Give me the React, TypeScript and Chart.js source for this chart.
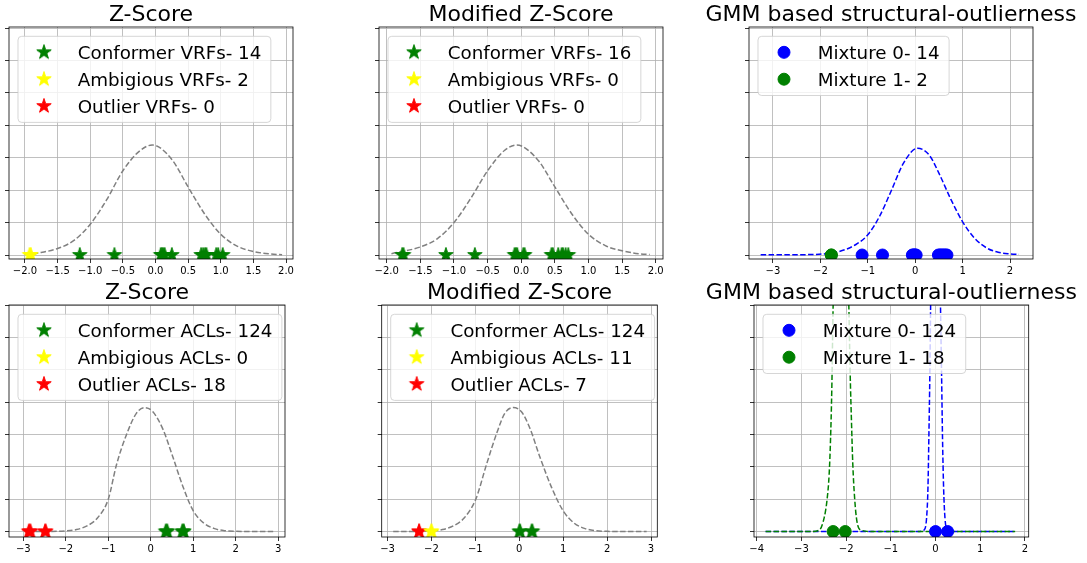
import React, { useEffect, useRef } from "react";
import { Chart, registerables } from "chart.js";

Chart.register(...registerables);

const FONT = "'DejaVu Sans', 'Liberation Sans', sans-serif";

// ---------- tick values ----------
const yTickValues = [0, 0.2, 0.4, 0.6, 0.8, 1.0, 1.2, 1.4];
const halfTicks = [-2.0, -1.5, -1.0, -0.5, 0.0, 0.5, 1.0, 1.5, 2.0];
const gmmTopTicks = [-3, -2, -1, 0, 1, 2];
const unitTicks = [-3, -2, -1, 0, 1, 2, 3];
const gmmBottomTicks = [-4, -3, -2, -1, 0, 1, 2];

// ---------- titles / labels ----------
const titleZ = "Z-Score";
const titleMZ = "Modified Z-Score";
const titleGMM = "GMM based structural-outlierness";

const vrfZLabels = ["Conformer VRFs- 14", "Ambigious VRFs- 2", "Outlier VRFs- 0"];
const vrfMzLabels = ["Conformer VRFs- 16", "Ambigious VRFs- 0", "Outlier VRFs- 0"];
const vrfGmmLabels = ["Mixture 0- 14", "Mixture 1- 2"];
const aclZLabels = ["Conformer ACLs- 124", "Ambigious ACLs- 0", "Outlier ACLs- 18"];
const aclMzLabels = ["Conformer ACLs- 124", "Ambigious ACLs- 11", "Outlier ACLs- 7"];
const aclGmmLabels = ["Mixture 0- 124", "Mixture 1- 18"];

// ---------- Panel 1: Z-Score (VRFs) ----------
const vrfZConformer = [-1.16, -0.63, 0.08, 0.1, 0.12, 0.14, 0.25, 0.7, 0.73, 0.76, 0.78, 0.93, 0.96, 1.03];
const vrfZAmbiguous = [-1.93, -1.91];
const vrfZOutlier: number[] = [];
const vrfZCurveX = [-1.88, -1.5, -1.25, -1.0, -0.75, -0.5, -0.25, -0.05, 0.25, 0.5, 0.75, 1.0, 1.25, 1.5, 1.75, 1.94];
const vrfZCurveY = [0.006, 0.04, 0.09, 0.19, 0.34, 0.52, 0.64, 0.679, 0.59, 0.42, 0.255, 0.128, 0.055, 0.022, 0.007, 0.002];

// ---------- Panel 2: Modified Z-Score (VRFs) ----------
const vrfMzConformer = [-1.77, -1.75, -1.12, -0.69, -0.1, -0.08, -0.06, 0.03, 0.05, 0.45, 0.47, 0.55, 0.6, 0.62, 0.66, 0.7];
const vrfMzAmbiguous: number[] = [];
const vrfMzOutlier: number[] = [];
const vrfMzCurveX = [-1.93, -1.5, -1.25, -1.0, -0.75, -0.5, -0.25, -0.07, 0.25, 0.5, 0.75, 1.0, 1.25, 1.5, 1.75, 1.91];
const vrfMzCurveY = [0.008, 0.05, 0.1, 0.2, 0.35, 0.52, 0.645, 0.679, 0.585, 0.42, 0.255, 0.128, 0.058, 0.026, 0.008, 0.003];

// ---------- Panel 3: GMM (VRFs) ----------
const vrfGmmMix0 = [-1.12, -0.69, -0.06, -0.04, -0.02, 0.0, 0.02, 0.49, 0.52, 0.55, 0.58, 0.61, 0.64, 0.67];
const vrfGmmMix1 = [-1.77, -1.77];
const vrfGmmCurveX = [-3.26, -2.5, -2.03, -1.6, -1.25, -1.0, -0.75, -0.5, -0.25, 0.05, 0.3, 0.5, 0.75, 1.0, 1.25, 1.5, 1.75, 2.0, 2.19];
const vrfGmmCurveY = [0.001, 0.002, 0.005, 0.022, 0.065, 0.125, 0.24, 0.4, 0.565, 0.659, 0.615, 0.505, 0.345, 0.205, 0.105, 0.045, 0.017, 0.007, 0.004];

// ---------- Panel 4: Z-Score (ACLs) ----------
const aclZConformer = [0.35, 0.37, 0.39, 0.74, 0.76, 0.78];
const aclZAmbiguous: number[] = [];
const aclZOutlier = [-2.87, -2.85, -2.83, -2.49, -2.47];
const aclZCurveX = [-2.9, -2.5, -2.0, -1.75, -1.5, -1.25, -1.0, -0.81, -0.57, -0.34, -0.14, 0.05, 0.29, 0.52, 0.76, 1.0, 1.25, 1.5, 1.75, 2.0, 2.5, 2.88];
const aclZCurveY = [0, 0.0005, 0.004, 0.012, 0.035, 0.085, 0.2, 0.41, 0.6, 0.73, 0.766, 0.74, 0.63, 0.46, 0.275, 0.128, 0.052, 0.018, 0.005, 0.0015, 0, 0];

// ---------- Panel 5: Modified Z-Score (ACLs) ----------
const aclMzConformer = [0.0, 0.02, 0.28, 0.3];
const aclMzAmbiguous = [-2.0, -2.0];
const aclMzOutlier = [-2.28, -2.28];
const aclMzCurveX = [-2.87, -2.5, -2.0, -1.75, -1.5, -1.25, -0.99, -0.74, -0.51, -0.33, -0.14, 0.05, 0.24, 0.47, 0.74, 1.0, 1.25, 1.5, 1.75, 2.0, 2.5, 2.9];
const aclMzCurveY = [0, 0.0005, 0.004, 0.012, 0.035, 0.085, 0.2, 0.42, 0.61, 0.73, 0.766, 0.74, 0.64, 0.46, 0.27, 0.128, 0.052, 0.018, 0.005, 0.0015, 0, 0];

// ---------- Panel 6: GMM (ACLs) ----------
const aclGmmMix0 = [0.0, 0.27];
const aclGmmMix1 = [-2.29, -2.02];
const aclGmmCurve1X = [-3.8, -2.8, -2.605, -2.49, -2.43, -2.38, -2.35, -2.32, -2.29, -2.12, -1.94, -1.91, -1.88, -1.85, -1.81, -1.76, -1.66, -1.4, 1.78];
const aclGmmCurve1Y = [0, 0, 0.008, 0.086, 0.188, 0.351, 0.556, 0.882, 1.403, 3.0, 1.403, 0.984, 0.678, 0.412, 0.208, 0.066, 0.008, 0, 0];
const aclGmmCurve0X = [-3.8, -0.4, -0.26, -0.2, -0.17, -0.15, -0.127, -0.11, 0.0, 0.11, 0.134, 0.156, 0.18, 0.21, 0.26, 0.4, 1.78];
const aclGmmCurve0Y = [0, 0, 0.008, 0.086, 0.27, 0.576, 0.984, 1.403, 3.5, 1.403, 0.984, 0.576, 0.27, 0.086, 0.008, 0, 0];

// ---------- helpers ----------
const GREEN = "#008000";
const YELLOW = "#ffff00";
const RED = "#ff0000";
const BLUE = "#0000ff";
const GRAY = "#808080";

const STAR_R = 7.6;
const starCache: Record<string, HTMLCanvasElement> = {};
function starImage(color: string): HTMLCanvasElement {
  if (starCache[color]) return starCache[color];
  const size = 20;
  const c = document.createElement("canvas");
  c.width = size;
  c.height = size;
  const g = c.getContext("2d")!;
  const cx = size / 2;
  const cy = size / 2;
  g.beginPath();
  for (let k = 0; k < 10; k++) {
    const ang = -Math.PI / 2 + (k * Math.PI) / 5;
    const rr = k % 2 === 0 ? STAR_R : STAR_R * 0.381966;
    const px = cx + rr * Math.cos(ang);
    const py = cy + rr * Math.sin(ang);
    if (k === 0) g.moveTo(px, py);
    else g.lineTo(px, py);
  }
  g.closePath();
  g.fillStyle = color;
  g.fill();
  g.strokeStyle = color;
  g.lineWidth = 1;
  g.stroke();
  starCache[color] = c;
  return c;
}

type Marker = "star" | "dot";

function markerSet(label: string, xs: number[], color: string, marker: Marker, order: number) {
  return {
    label,
    data: xs.map((x) => ({ x, y: 0 })),
    showLine: false,
    pointStyle: marker === "star" ? starImage(color) : "circle",
    pointRadius: marker === "star" ? 7 : 6,
    pointBorderWidth: 1,
    pointBackgroundColor: color,
    pointBorderColor: color,
    backgroundColor: color,
    borderColor: color,
    clip: 0,
    order,
    legendMarker: marker,
    legendColor: color,
  };
}

function curveSet(xs: number[], ys: number[], color: string, order: number) {
  return {
    label: "",
    data: xs.map((x, i) => ({ x, y: ys[i] })),
    showLine: true,
    borderColor: color,
    borderWidth: 1.5,
    borderDash: [5.5, 2.4],
    pointRadius: 0,
    fill: false,
    cubicInterpolationMode: "monotone",
    clip: 0,
    order,
  };
}

function fmt(v: number, decimals: number) {
  return v.toFixed(decimals).replace("-", "\u2212");
}

const decorPlugin = {
  id: "panelDecor",
  afterDatasetsDraw(chart: any, _args: any, opts: any) {
    const { ctx, chartArea: a } = chart;
    ctx.save();
    // frame (all four spines)
    ctx.strokeStyle = "#000";
    ctx.lineWidth = 0.8;
    ctx.strokeRect(a.left, a.top, a.right - a.left, a.bottom - a.top);

    // legend
    const items = chart.data.datasets.filter((d: any) => d.legendMarker);
    const lfs = 18.3;
    ctx.font = `${lfs}px ${FONT}`;
    let tw = 0;
    items.forEach((d: any) => {
      tw = Math.max(tw, ctx.measureText(d.label).width);
    });
    const bx = a.left + 9;
    const by = a.top + 9.3;
    const bw = 59.7 + tw + 9.5;
    const bh = 32.3 + 26.9 * (items.length - 1);
    const r = 3.7;
    ctx.beginPath();
    ctx.moveTo(bx + r, by);
    ctx.lineTo(bx + bw - r, by);
    ctx.arcTo(bx + bw, by, bx + bw, by + r, r);
    ctx.lineTo(bx + bw, by + bh - r);
    ctx.arcTo(bx + bw, by + bh, bx + bw - r, by + bh, r);
    ctx.lineTo(bx + r, by + bh);
    ctx.arcTo(bx, by + bh, bx, by + bh - r, r);
    ctx.lineTo(bx, by + r);
    ctx.arcTo(bx, by, bx + r, by, r);
    ctx.closePath();
    ctx.fillStyle = "rgba(255,255,255,0.8)";
    ctx.fill();
    ctx.strokeStyle = "rgba(204,204,204,0.8)";
    ctx.lineWidth = 1;
    ctx.stroke();

    items.forEach((d: any, i: number) => {
      const cy = by + 16 + 26.9 * i;
      const mx = bx + 26;
      if (d.legendMarker === "star") {
        const img = starImage(d.legendColor);
        ctx.drawImage(img, mx - img.width / 2, cy - img.height / 2);
      } else {
        ctx.beginPath();
        ctx.arc(mx, cy, 6, 0, Math.PI * 2);
        ctx.fillStyle = d.legendColor;
        ctx.fill();
        ctx.strokeStyle = d.legendColor;
        ctx.lineWidth = 1;
        ctx.stroke();
      }
      ctx.fillStyle = "#000";
      ctx.textAlign = "left";
      ctx.textBaseline = "alphabetic";
      ctx.fillText(d.label, bx + 59.7, cy + 0.729 * lfs * 0.5);
    });

    // title
    ctx.font = `22px ${FONT}`;
    ctx.fillStyle = "#000";
    ctx.textAlign = "center";
    ctx.textBaseline = "alphabetic";
    ctx.fillText(opts.title, (a.left + a.right) / 2, a.top - 6);
    ctx.restore();
  },
};

interface PanelSpec {
  cx: number;
  cy: number;
  cw: number;
  ch: number;
  pad: { left: number; right: number; top: number; bottom: number };
  title: string;
  xMin: number;
  xMax: number;
  yMin: number;
  yMax: number;
  xTicks: number[];
  decimals: number;
  datasets: any[];
}

function buildConfig(spec: PanelSpec): any {
  const gridCommon = {
    color: "#b0b0b0",
    lineWidth: 0.8,
    tickColor: "#000",
    tickLength: 4,
    tickWidth: 0.8,
  };
  return {
    type: "scatter",
    data: { datasets: spec.datasets },
    options: {
      responsive: false,
      animation: false,
      events: [],
      layout: { padding: spec.pad },
      plugins: {
        legend: { display: false },
        tooltip: { enabled: false },
        title: { display: false },
        panelDecor: { title: spec.title },
      },
      scales: {
        x: {
          type: "linear",
          min: spec.xMin,
          max: spec.xMax,
          afterBuildTicks: (axis: any) => {
            axis.ticks = spec.xTicks.map((v) => ({ value: v }));
          },
          ticks: {
            callback: (v: any) => fmt(Number(v), spec.decimals),
            font: { family: FONT, size: 10 },
            color: "#000",
            padding: 2,
            autoSkip: false,
            maxRotation: 0,
            minRotation: 0,
          },
          grid: gridCommon,
          border: { display: false },
        },
        y: {
          type: "linear",
          min: spec.yMin,
          max: spec.yMax,
          afterBuildTicks: (axis: any) => {
            axis.ticks = yTickValues.map((v) => ({ value: v }));
          },
          ticks: { display: false },
          grid: gridCommon,
          border: { display: false },
        },
      },
    },
    plugins: [decorPlugin],
  };
}

const TOP_Y = { yMin: -0.0245, yMax: 1.407 };
const BOT_Y = { yMin: -0.0337, yMax: 1.4 };

const panels: PanelSpec[] = [
  {
    cx: 0, cy: 0, cw: 360, ch: 283,
    pad: { left: 5, right: 67, top: 27, bottom: 4 },
    title: titleZ, xMin: -2.245, xMax: 2.107, ...TOP_Y, xTicks: halfTicks, decimals: 1,
    datasets: [
      markerSet(vrfZLabels[0], vrfZConformer, GREEN, "star", 0),
      markerSet(vrfZLabels[1], vrfZAmbiguous, YELLOW, "star", 1),
      markerSet(vrfZLabels[2], vrfZOutlier, RED, "star", 2),
      curveSet(vrfZCurveX, vrfZCurveY, GRAY, 3),
    ],
  },
  {
    cx: 350, cy: 0, cw: 340, ch: 283,
    pad: { left: 25, right: 27, top: 27, bottom: 4 },
    title: titleMZ, xMin: -2.115, xMax: 2.108, ...TOP_Y, xTicks: halfTicks, decimals: 1,
    datasets: [
      markerSet(vrfMzLabels[0], vrfMzConformer, GREEN, "star", 0),
      markerSet(vrfMzLabels[1], vrfMzAmbiguous, YELLOW, "star", 1),
      markerSet(vrfMzLabels[2], vrfMzOutlier, RED, "star", 2),
      curveSet(vrfMzCurveX, vrfMzCurveY, GRAY, 3),
    ],
  },
  {
    cx: 690, cy: 0, cw: 397, ch: 283,
    pad: { left: 55, right: 54, top: 27, bottom: 4 },
    title: titleGMM, xMin: -3.506, xMax: 2.485, ...TOP_Y, xTicks: gmmTopTicks, decimals: 0,
    datasets: [
      markerSet(vrfGmmLabels[0], vrfGmmMix0, BLUE, "dot", 0),
      markerSet(vrfGmmLabels[1], vrfGmmMix1, GREEN, "dot", 1),
      curveSet(vrfGmmCurveX, vrfGmmCurveY, BLUE, 3),
    ],
  },
  {
    cx: 0, cy: 280, cw: 360, ch: 283,
    pad: { left: 5, right: 75, top: 25, bottom: 6 },
    title: titleZ, xMin: -3.336, xMax: 3.158, ...BOT_Y, xTicks: unitTicks, decimals: 0,
    datasets: [
      markerSet(aclZLabels[0], aclZConformer, GREEN, "star", 0),
      markerSet(aclZLabels[1], aclZAmbiguous, YELLOW, "star", 1),
      markerSet(aclZLabels[2], aclZOutlier, RED, "star", 2),
      curveSet(aclZCurveX, aclZCurveY, GRAY, 3),
    ],
  },
  {
    cx: 350, cy: 280, cw: 340, ch: 283,
    pad: { left: 27.7, right: 32.7, top: 25, bottom: 6 },
    title: titleMZ, xMin: -3.132, xMax: 3.143, ...BOT_Y, xTicks: unitTicks, decimals: 0,
    datasets: [
      markerSet(aclMzLabels[0], aclMzConformer, GREEN, "star", 0),
      markerSet(aclMzLabels[1], aclMzAmbiguous, YELLOW, "star", 1),
      markerSet(aclMzLabels[2], aclMzOutlier, RED, "star", 2),
      curveSet(aclMzCurveX, aclMzCurveY, GRAY, 3),
    ],
  },
  {
    cx: 690, cy: 280, cw: 397, ch: 283,
    pad: { left: 60, right: 58.3, top: 25, bottom: 6 },
    title: titleGMM, xMin: -4.06, xMax: 2.083, ...BOT_Y, xTicks: gmmBottomTicks, decimals: 0,
    datasets: [
      markerSet(aclGmmLabels[0], aclGmmMix0, BLUE, "dot", 0),
      markerSet(aclGmmLabels[1], aclGmmMix1, GREEN, "dot", 1),
      curveSet(aclGmmCurve1X, aclGmmCurve1Y, GREEN, 2),
      curveSet(aclGmmCurve0X, aclGmmCurve0Y, BLUE, 3),
    ],
  },
];

function Panel({ spec }: { spec: PanelSpec }) {
  const ref = useRef<HTMLCanvasElement>(null);
  useEffect(() => {
    if (!ref.current) return;
    const chart = new Chart(ref.current, buildConfig(spec));
    return () => chart.destroy();
  }, [spec]);
  return (
    <canvas
      ref={ref}
      width={spec.cw}
      height={spec.ch}
      style={{
        position: "absolute",
        left: spec.cx,
        top: spec.cy,
        width: spec.cw,
        height: spec.ch,
      }}
    />
  );
}

export default function App() {
  return (
    <div
      style={{
        position: "absolute",
        left: 0,
        top: 0,
        width: 1087,
        height: 563,
        background: "#fff",
        overflow: "hidden",
      }}
    >
      {panels.map((p, i) => (
        <Panel key={i} spec={p} />
      ))}
    </div>
  );
}
